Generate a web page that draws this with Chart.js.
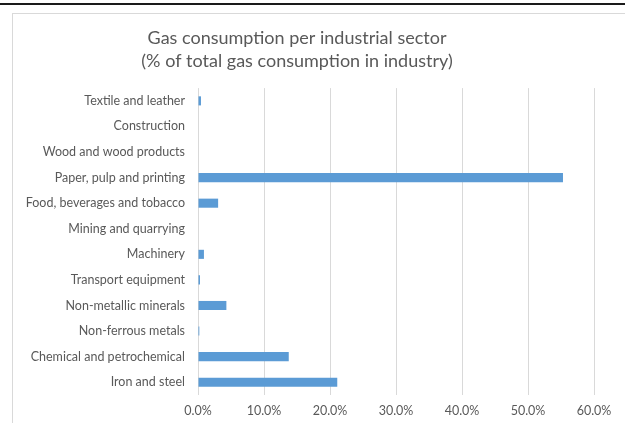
<!DOCTYPE html>
<html>
<head>
<meta charset="utf-8">
<script src="https://cdn.jsdelivr.net/npm/chart.js@4.4.1/dist/chart.umd.min.js"></script>
<style>
  html, body { margin: 0; padding: 0; background: #fff; }
  #wrap { position: relative; width: 625px; height: 423px; overflow: hidden; }
  #topline { position: absolute; left: 0; top: 3px; width: 625px; height: 2px; background: #1a1a1a; }
  #frame { position: absolute; left: 12px; top: 13px; width: 700px; height: 500px; border: 1px solid #d9d9d9; }
  #myChart { position: absolute; left: 0; top: 0; }
</style>
</head>
<body>
<div id="wrap">
  <div id="topline"></div>
  <div id="frame"></div>
  <canvas id="myChart"></canvas>
</div>
<script>
const sectors = [
  "Textile and leather",
  "Construction",
  "Wood and wood products",
  "Paper, pulp and printing",
  "Food, beverages and tobacco",
  "Mining and quarrying",
  "Machinery",
  "Transport equipment",
  "Non-metallic minerals",
  "Non-ferrous metals",
  "Chemical and petrochemical",
  "Iron and steel",
];
const shares = [0.45, 0, 0, 55.3, 3.05, 0, 0.9, 0.3, 4.3, 0.2, 13.75, 21.1];
const titleLines = [
  "Gas consumption per industrial sector",
  "(% of total gas consumption in industry)",
];

const ctx = document.getElementById("myChart");
ctx.style.width = "625px";
ctx.style.height = "423px";

new Chart(ctx, {
  type: "bar",
  data: {
    labels: sectors,
    datasets: [
      {
        label: "Share",
        data: shares,
        backgroundColor: "#5b9bd5",
        borderWidth: 0,
        categoryPercentage: 1,
        barPercentage: 0.355,
      },
    ],
  },
  options: {
    indexAxis: "y",
    responsive: false,
    animation: false,
    layout: { padding: { top: 27, right: 31, bottom: 4, left: 0 } },
    plugins: {
      legend: { display: false },
      tooltip: { enabled: false },
      title: {
        display: true,
        text: titleLines,
        color: "#595959",
        font: { family: "Lato", size: 18, weight: "normal", lineHeight: 1.28 },
        padding: { top: 0, bottom: 15 },
      },
    },
    scales: {
      x: {
        min: 0,
        max: 60,
        ticks: {
          stepSize: 10,
          color: "#595959",
          font: { family: "Lato", size: 12.5 },
          padding: 8,
          maxRotation: 0,
          callback: (v) => v.toFixed(1) + "%",
        },
        grid: { color: "#d9d9d9", drawTicks: false },
        border: { display: false },
        afterFit: (scale) => { scale.height = 24; },
      },
      y: {
        ticks: {
          color: "#595959",
          font: { family: "Lato", size: 12.5 },
          padding: 13,
        },
        grid: { display: false, drawTicks: false },
        border: { display: false },
        afterFit: (scale) => { scale.width = 198; },
      },
    },
  },
});
</script>
</body>
</html>
